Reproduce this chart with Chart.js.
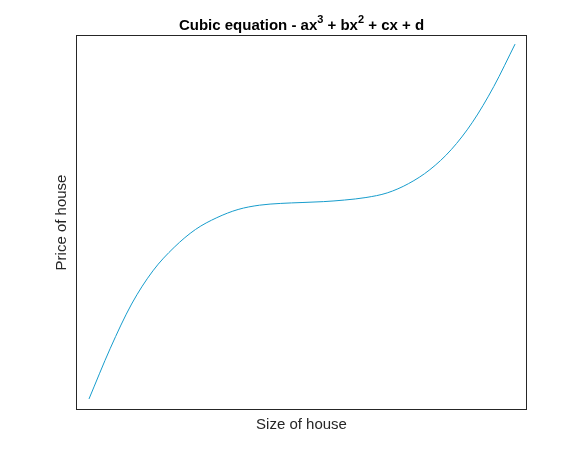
<!DOCTYPE html>
<html>
<head>
<meta charset="utf-8">
<script src="https://cdn.jsdelivr.net/npm/chart.js@4"></script>
<style>
  html, body { margin: 0; padding: 0; background: #fff; }
  #wrap { width: 583px; height: 462px; }
</style>
</head>
<body>
<div id="wrap"><canvas id="grafico"></canvas></div>
<script>
/* data (size 0..100, price 0..100) */
var tamanho = [0, 5, 10, 15, 20, 25, 30, 35, 40, 45, 50, 55, 60, 65, 70, 75, 80, 85, 90, 95, 100];
var preco   = [0, 14.2, 26.6, 35.9, 42.5, 47.5, 50.8, 53.1, 54.3, 54.8, 55.05, 55.3, 55.75,
               56.45, 57.75, 60.35, 64.25, 69.85, 77.55, 87.55, 99.45];
var limX = [-3.05, 102.8];
var limY = [-3.1, 102.0];

var corTexto = "#262626";
var fonte = "'Liberation Sans', Arial, Helvetica, sans-serif";

/* box + title with superscripts */
var molduraTitulo = {
  id: "molduraTitulo",
  afterDraw: function (chart) {
    var ctx = chart.ctx, a = chart.chartArea;
    ctx.save();
    ctx.strokeStyle = corTexto;
    ctx.lineWidth = 1;
    ctx.strokeRect(Math.round(a.left) + 0.5, Math.round(a.top) + 0.5,
                   Math.round(a.right - a.left) - 1, Math.round(a.bottom - a.top) - 1);

    var partes = [
      { t: "Cubic equation - ax", sup: false },
      { t: "3", sup: true },
      { t: " + bx", sup: false },
      { t: "2", sup: true },
      { t: " + cx + d", sup: false }
    ];
    var fN = "bold 15px " + fonte, fS = "bold 11px " + fonte;
    var largura = 0;
    partes.forEach(function (p) {
      ctx.font = p.sup ? fS : fN;
      p.w = ctx.measureText(p.t).width;
      largura += p.w;
    });
    var x = (a.left + a.right) / 2 - largura / 2;
    var base = 30;
    ctx.fillStyle = "#000";
    ctx.textBaseline = "alphabetic";
    ctx.textAlign = "left";
    partes.forEach(function (p) {
      ctx.font = p.sup ? fS : fN;
      ctx.fillText(p.t, x, p.sup ? base - 7 : base);
      x += p.w;
    });
    ctx.restore();
  }
};

new Chart(document.getElementById("grafico"), {
  type: "scatter",
  data: {
    datasets: [{
      data: tamanho.map(function (v, i) { return { x: v, y: preco[i] }; }),
      showLine: true,
      borderColor: "rgb(22, 156, 204)",
      borderWidth: 1,
      pointRadius: 0,
      cubicInterpolationMode: "monotone",
      fill: false
    }]
  },
  options: {
    responsive: true,
    maintainAspectRatio: false,
    animation: false,
    layout: { padding: { left: 53, right: 56, top: 35, bottom: 28 } },
    plugins: { legend: { display: false }, tooltip: { enabled: false }, title: { display: false } },
    scales: {
      x: {
        type: "linear", min: limX[0], max: limX[1],
        grid: { display: false, drawTicks: false },
        border: { display: false },
        ticks: { display: false },
        title: { display: true, text: "Size of house", color: corTexto,
                 font: { family: fonte, size: 15 }, padding: { top: 6, bottom: 0 } }
      },
      y: {
        type: "linear", min: limY[0], max: limY[1],
        grid: { display: false, drawTicks: false },
        border: { display: false },
        ticks: { display: false },
        title: { display: true, text: "Price of house", color: corTexto,
                 font: { family: fonte, size: 15 }, padding: { top: 0, bottom: 5 } }
      }
    }
  },
  plugins: [molduraTitulo]
});
</script>
</body>
</html>
